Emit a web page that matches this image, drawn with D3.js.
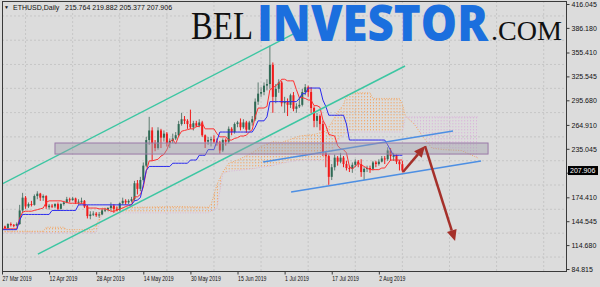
<!DOCTYPE html>
<html>
<head>
<meta charset="utf-8">
<title>ETHUSD Daily</title>
<script src="https://cdn.jsdelivr.net/npm/d3@7"></script>
<style>
  body { margin: 0; background: #dcdcdc; }
  svg { display: block; }
  text { font-family: "Liberation Sans", Arial, sans-serif; }
</style>
</head>
<body>
<div id="chart"></div>
<script>

// daily candles from 27 Mar 2019 to 10 Aug 2019 : [open, high, low, close]
var candles = [
  [134,140,132,138],[138,139,134,136],[136,142,135,141],[141,143,138,140],[140,141,137,139],
  [139,143,138,141],[141,165,140,158],[158,180,155,174],[174,176,160,163],[163,168,161,166],
  [166,170,163,165],[165,178,164,176],[176,182,172,179],[179,180,170,174],[174,178,170,176],
  [176,177,160,163],[162,166,159,164],[164,166,161,163],[163,167,161,166],[166,168,158,160],
  [160,167,159,166],[166,170,164,168],[168,175,167,172],[172,174,168,171],[171,175,170,173],
  [173,174,166,168],[168,172,165,169],[169,174,166,170],[170,171,161,163],[163,165,148,151],
  [151,157,147,153],[153,157,151,154],[154,156,150,152],[152,156,149,153],[153,160,152,158],
  [158,161,156,159],[159,162,157,161],[161,168,158,164],[164,166,155,160],[160,163,157,159],
  [159,168,157,167],[167,174,165,170],[170,172,165,168],[168,172,166,170],[170,175,168,172],
  [172,195,170,192],[192,196,178,185],[185,200,182,196],[196,218,194,214],[214,250,212,246],
  [246,275,240,258],[258,262,220,242],[242,246,232,236],[236,262,234,258],[258,260,236,249],
  [249,258,244,254],[254,256,238,242],[242,248,236,245],[245,254,242,248],[248,256,246,252],
  [252,270,250,266],[266,280,264,272],[272,276,266,270],[270,272,260,266],[266,284,260,262],
  [262,270,258,267],[267,270,262,264],[264,272,262,268],[268,270,250,252],[252,253,236,244],
  [244,250,240,246],[246,250,238,247],[247,252,242,244],[244,248,239,243],[243,245,229,233],
  [233,248,231,246],[246,248,239,244],[244,263,242,260],[260,262,252,256],[256,268,254,266],
  [266,270,262,268],[268,273,258,262],[262,272,260,268],[268,270,255,259],[259,270,258,268],
  [268,276,264,272],[272,298,270,294],[294,318,290,304],[304,312,300,306],[306,318,302,314],
  [314,322,308,316],[316,364,310,340],[340,343,280,300],[300,316,292,310],[310,322,305,318],
  [318,320,288,292],[292,300,280,294],[294,298,276,290],[290,304,286,302],[302,306,282,285],
  [285,292,280,288],[288,300,286,290],[290,310,288,306],[306,316,302,312],[312,314,300,306],
  [306,312,280,286],[286,288,262,270],[270,280,262,276],[276,278,258,266],[266,270,226,230],
  [230,232,212,226],[226,228,190,200],[200,216,196,212],[212,228,208,224],[224,226,214,219],
  [219,230,217,224],[224,226,212,216],[216,220,208,211],[211,214,206,210],[210,218,205,215],
  [215,222,212,219],[219,221,212,216],[216,222,200,206],[206,212,196,210],[210,214,206,211],
  [211,214,205,210],[210,220,208,218],[218,220,212,216],[216,222,214,219],[219,226,218,223],
  [223,226,216,222],[222,237,220,233],[233,236,220,226],[225,230,220,227],[227,228,216,219],
  [219,221,208,215.764],[215.764,219.882,205.377,207.906]
];

// ichimoku tenkan-sen (red), one value per candle
var tenkan = [
  135,135,135,135,135,135,148,156,157,157,
  157,158,159,160,161,168,170,170,170,170,
  170,169,168,167,167,167,167,167,167,161,
  161,161,161,160,160,160,159,157,157,158,
  160,161,163,164,165,175,175,178,187,207,
  220,220,221,222,226,228,234,243,247,241,
  251,257,258,259,260,260,263,263,267,260,
  260,260,260,254,250,250,250,246,246,248,
  249,251,251,252,256,259,275,286,286,286,
  288,309,311,314,317,322,322,320,320,320,
  309,299,299,298,296,296,289,289,287,271,
  264,253,252,251,239,235,234,230,213,210,
  213,217,215,213,211,209,209,209,209,211,
  211,216,221,221,221,221,221
];

// ichimoku kijun-sen (blue), one value per candle
var kijun = [
  134,134,134,134,134,134,146,153,153,153,
  153,153,153,153,153,153,153,158,158,158,
  158,158,158,158,158,158,165,165,165,165,
  165,165,165,165,165,165,165,165,165,165,
  165,165,165,165,165,170,171,174,190,208,
  213,213,213,213,213,213,213,213,217,217,
  217,217,217,217,221,221,221,227,227,227,
  234,234,234,245,256,256,256,256,256,256,
  256,256,256,256,256,256,262,270,270,270,
  275,294,294,294,294,294,294,294,294,294,
  294,298,304,304,311,311,311,311,311,296,
  288,277,277,277,277,277,277,266,246,246,
  246,246,246,246,246,246,246,246,246,246,
  246,240,233,227,227,227,227
];

// senkou spans (cloud), day index counted from 27 Mar 2019
var spanDays = [0,14,15,21,22,31,32,33,34,47,60,70,71,73,75,77,80,85,88,92,95,101,106,110,112,114,116,117,120,125,126,135,136,137,140,143,146,150,156,159,162];
var spanA    = [132,132,137,137,134,134,140,147,161,162,163,162,165,190,206,217,221,230,238,244,243,251,253,257,268,281,290,302,305,305,298,298,291,276,266,250,236,234,233,228,223];
var spanB    = [130,130,130,130,130,130,131,140,155,155,155,155,157,160,204,207,208,210,212,214,217,221,221,221,232,245,252,255,256,256,256,256,256,275,275,275,275,275,275,275,275];

var priceTicks = [416.045, 386.180, 355.410, 325.545, 295.680, 264.910, 235.045, 205.180, 174.410, 144.545, 114.680, 84.815];
var dateTicks = ["2019-03-27","2019-04-12","2019-04-28","2019-05-14","2019-05-30","2019-06-15","2019-07-01","2019-07-17","2019-08-02"];
var lastPrice = 207.906;
var titleValues = "215.764 219.882 205.377 207.906";

// drawn objects, [day index, price]
var channelLines = [[[-1, 189.2], [101, 382.4]], [[12.2, 103.5], [136.9, 338.5]]];
var supportLines = [[[88.7, 218.5], [153.2, 257.3]], [[98.2, 181.0], [162.7, 219.8]]];
var zone = [[18, 242.3], [165.1, 228.5]];
var arrows = [[[136.2, 206.0], [143.7, 238.5]], [[143.7, 238.5], [153.9, 119.8]]];

var width = 600, height = 287;
var plot = {left: 2, top: 1, right: 566, bottom: 271};
var pxPerDay = 2.944;

var start = new Date(Date.UTC(2019, 2, 27));
function dayDate(i) { return new Date(start.getTime() + i * 86400000); }

var svg = d3.select("#chart")
  .append("svg")
  .attr("width", width)
  .attr("height", height);

svg.append("rect").attr("width", width).attr("height", height).attr("fill", "#dcdcdc");

var defs = svg.append("defs");
defs.append("clipPath").attr("id", "plotclip")
  .append("rect")
  .attr("x", plot.left).attr("y", plot.top)
  .attr("width", plot.right - plot.left).attr("height", plot.bottom - plot.top);

// dotted hatches for the cloud
var hatch = function(id, color) {
  var p = defs.append("pattern").attr("id", id)
    .attr("patternUnits", "userSpaceOnUse")
    .attr("x", 2).attr("width", pxPerDay).attr("height", 3);
  p.append("rect").attr("width", 1).attr("height", 1.4).attr("fill", color);
};
hatch("hatchUp", "#f2a868");
hatch("hatchDown", "#dab6da");

var x = d3.scaleUtc()
  .domain([start, dayDate(128)])
  .range([plot.left, plot.left + 128 * pxPerDay]);

var y = d3.scaleLinear()
  .domain([84.815, 416.045])
  .range([269, 4]);

// grid
var grid = svg.append("g").attr("stroke", "#c6c6c6").attr("stroke-dasharray", "2,2");
for (var k = 0; k < 13; k++) {
  var gx = x(dayDate(8 + 16 * k));
  if (gx < plot.right) {
    grid.append("line").attr("x1", gx).attr("x2", gx).attr("y1", plot.top).attr("y2", plot.bottom);
  }
}
for (var j = 0; j < priceTicks.length - 1; j++) {
  var gy = y((priceTicks[j] + priceTicks[j + 1]) / 2);
  grid.append("line").attr("x1", plot.left).attr("x2", plot.right).attr("y1", gy).attr("y2", gy);
}

var g = svg.append("g").attr("clip-path", "url(#plotclip)");

// Add cloud
var spans = spanDays.map(function(d, i) { return {day: d, a: spanA[i], b: spanB[i]}; });
var sx = function(d) { return x(dayDate(d.day)); };

g.append("path")
  .datum(spans)
  .attr("fill", "url(#hatchUp)")
  .attr("d", d3.area().x(sx).y0(function(d) { return y(d.b); }).y1(function(d) { return y(Math.max(d.a, d.b)); }));
g.append("path")
  .datum(spans)
  .attr("fill", "url(#hatchDown)")
  .attr("d", d3.area().x(sx).y0(function(d) { return y(d.a); }).y1(function(d) { return y(Math.max(d.a, d.b)); }));
g.append("path")
  .datum(spans)
  .attr("fill", "none").attr("stroke", "#f2a868").attr("stroke-dasharray", "1,1.5")
  .attr("d", d3.line().x(sx).y(function(d) { return y(d.a); }));
g.append("path")
  .datum(spans)
  .attr("fill", "none").attr("stroke", "#dab6da").attr("stroke-dasharray", "1,1.5")
  .attr("d", d3.line().x(sx).y(function(d) { return y(d.b); }));

// Add candles
var bull = "#2f6a55", bullWick = "#5f7d72", bear = "#f21a1a";
var cx = function(d, i) { return x(dayDate(i)); };
var cg = g.append("g");
cg.selectAll("line")
  .data(candles)
  .join("line")
  .attr("x1", cx).attr("x2", cx)
  .attr("y1", function(d) { return y(d[1]); })
  .attr("y2", function(d) { return y(d[2]); })
  .attr("stroke", function(d) { return d[3] >= d[0] ? bullWick : bear; })
  .attr("stroke-width", 1);
cg.selectAll("rect")
  .data(candles)
  .join("rect")
  .attr("x", function(d, i) { return cx(d, i) - 1; })
  .attr("width", 2)
  .attr("y", function(d) { return y(Math.max(d[0], d[3])); })
  .attr("height", function(d) { return Math.max(1, Math.abs(y(d[0]) - y(d[3]))); })
  .attr("fill", function(d) { return d[3] >= d[0] ? bull : bear; });

// tenkan / kijun
var indLine = d3.line().x(function(d, i) { return x(dayDate(i)); }).y(function(d) { return y(d); });
g.append("path").datum(tenkan).attr("fill", "none").attr("stroke", "#ff3030").attr("stroke-width", 1).attr("d", indLine);
g.append("path").datum(kijun).attr("fill", "none").attr("stroke", "#2a2aee").attr("stroke-width", 1).attr("d", indLine);

// chart objects
var px = function(p) { return [x(dayDate(p[0])), y(p[1])]; };

channelLines.forEach(function(l) {
  var a = px(l[0]), b = px(l[1]);
  g.append("line").attr("x1", a[0]).attr("y1", a[1]).attr("x2", b[0]).attr("y2", b[1])
    .attr("stroke", "#3cc6a2").attr("stroke-width", 1.5);
});
supportLines.forEach(function(l) {
  var a = px(l[0]), b = px(l[1]);
  g.append("line").attr("x1", a[0]).attr("y1", a[1]).attr("x2", b[0]).attr("y2", b[1])
    .attr("stroke", "#4d8fe3").attr("stroke-width", 1.5);
});

var z1 = px(zone[0]), z2 = px(zone[1]);
g.append("rect")
  .attr("x", z1[0]).attr("y", z1[1])
  .attr("width", z2[0] - z1[0]).attr("height", z2[1] - z1[1])
  .attr("fill", "#9c9ca8").attr("fill-opacity", 0.4)
  .attr("stroke", "#9a7aa8").attr("stroke-width", 1);

arrows.forEach(function(l) {
  var a = px(l[0]), b = px(l[1]);
  var ang = Math.atan2(b[1] - a[1], b[0] - a[0]);
  var len = 11, half = 5;
  var bx = b[0] - len * Math.cos(ang), by = b[1] - len * Math.sin(ang);
  g.append("line").attr("x1", a[0]).attr("y1", a[1]).attr("x2", bx).attr("y2", by)
    .attr("stroke", "#a5302a").attr("stroke-width", 2.5);
  g.append("path")
    .attr("d", "M" + b[0] + "," + b[1] +
      "L" + (bx + half * Math.sin(ang)) + "," + (by - half * Math.cos(ang)) +
      "L" + (bx - half * Math.sin(ang)) + "," + (by + half * Math.cos(ang)) + "Z")
    .attr("fill", "#a5302a");
});

// watermark
var wm = svg.append("g");
wm.append("text").attr("x", 191).attr("y", 39)
  .attr("textLength", 62).attr("lengthAdjust", "spacingAndGlyphs")
  .style("font-family", "'Liberation Serif', serif").style("font-size", "39px").attr("fill", "#111")
  .text("BEL");
wm.append("text").attr("x", 257).attr("y", 40.5)
  .attr("textLength", 231).attr("lengthAdjust", "spacingAndGlyphs")
  .style("font-family", "'Open Sans', sans-serif").style("font-weight", "800").style("font-size", "50px")
  .attr("fill", "#1b6fde")
  .text("INVESTOR");
wm.append("text").attr("x", 491).attr("y", 40)
  .attr("textLength", 71).attr("lengthAdjust", "spacingAndGlyphs")
  .style("font-family", "'Liberation Serif', serif").style("font-size", "27px").attr("fill", "#111")
  .text(".COM");

// frame
svg.append("rect")
  .attr("x", plot.left + 0.5).attr("y", plot.top + 0.5)
  .attr("width", plot.right - plot.left).attr("height", plot.bottom - plot.top)
  .attr("fill", "none").attr("stroke", "#3a3a3a");

// Add Y axis
var yAxis = svg.append("g")
  .attr("transform", "translate(" + (plot.right + 0.5) + ",0)")
  .call(d3.axisRight(y).tickValues(priceTicks).tickFormat(d3.format(".3f")).tickSize(3).tickPadding(2));
yAxis.select(".domain").remove();
yAxis.selectAll("line").attr("stroke", "#3a3a3a");
yAxis.selectAll("text").style("font-size", "7px").attr("fill", "#111");

// Add X axis
var parseDay = d3.utcParse("%Y-%m-%d");
var xAxis = svg.append("g")
  .attr("transform", "translate(0," + (plot.bottom + 0.5) + ")")
  .call(d3.axisBottom(x).tickValues(dateTicks.map(parseDay)).tickFormat(d3.utcFormat("%-d %b %Y")).tickSize(3));
xAxis.select(".domain").remove();
xAxis.selectAll("line").attr("stroke", "#3a3a3a");
xAxis.selectAll("text")
  .style("font-size", "7px").attr("fill", "#111")
  .attr("text-anchor", "start")
  .attr("x", 0).attr("y", 0).attr("dy", null)
  .attr("transform", "translate(0,9.5) scale(0.74,1)");

// current price label
var ly = y(lastPrice);
svg.append("rect").attr("x", 568).attr("y", ly - 4.5).attr("width", 30).attr("height", 9).attr("fill", "#000");
svg.append("text").attr("x", 570).attr("y", ly + 2.5).style("font-size", "7px").attr("fill", "#fff").text(d3.format(".3f")(lastPrice));

// chart title
var title = svg.append("g").attr("fill", "#111").style("font-size", "7px");
title.append("text").attr("x", 4).attr("y", 9).style("font-size", "5px").text("\u25BC");
title.append("text").attr("x", 13).attr("y", 9.5).text("ETHUSD,Daily");
title.append("text").attr("x", 65).attr("y", 9.5).text(titleValues);

</script>
</body>
</html>
